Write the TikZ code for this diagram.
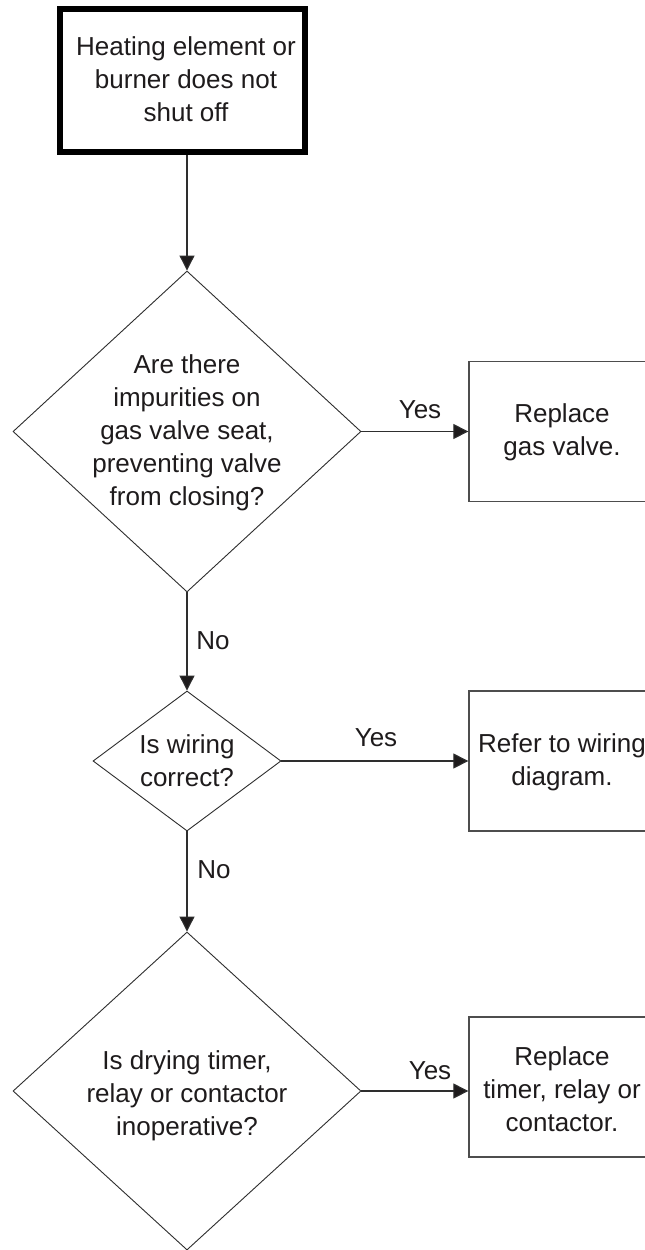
\documentclass[tikz,border=0pt]{standalone}
\usepackage{fontspec}
\setmainfont{Liberation Sans}
\usetikzlibrary{shapes.geometric,arrows.meta}
\definecolor{ink}{HTML}{1E1B1C}
\definecolor{edge}{HTML}{2E2E2E}
\begin{document}
\begin{tikzpicture}[x=1pt,y=-1pt,
  txt/.style={align=center,inner sep=0pt,text=ink,font=\fontsize{26}{33}\selectfont},
  lbl/.style={inner sep=0pt,text=ink,font=\fontsize{26}{33}\selectfont},
  startbox/.style={draw=black,line width=6pt,rectangle,minimum width=245pt,minimum height=143pt,inner sep=0pt},
  actbox/.style={draw=edge!85!white,line width=1.3pt,rectangle,minimum width=186pt,minimum height=140pt,inner sep=0pt},
  decision/.style={draw=edge,line width=0.9pt,diamond,inner sep=0pt},
  arr/.style={draw=edge,line width=1.1pt,-{Triangle[length=15pt,width=15pt,fill=ink]}},
  ln/.style={draw=edge,line width=1.1pt}]
\clip (0,0) rectangle (645,1250);
\fill[white] (0,0) rectangle (645,1250);

% start box
\node[startbox] (start) at (182,80) {};
\node[txt] (starttxt) at (186,79) {Heating element or\\burner does not\\shut off};

% decision 1
\node[decision,minimum width=348pt,minimum height=321pt] (d1) at (187,431.5) {};
\node[txt] (d1txt) at (187,433) {Are there\\impurities on\\gas valve seat,\\preventing valve\\from closing?};

% action 1
\node[actbox] (b1) at (562,431.5) {};
\node[txt] (b1txt) at (562,432) {Replace\\gas valve.};

% decision 2
\node[decision,minimum width=188pt,minimum height=140pt] (d2) at (187,761) {};
\node[txt] (d2txt) at (187,761) {Is wiring\\correct?};

% action 2
\node[actbox] (b2) at (562,761) {};
\node[txt] (b2txt) at (562,762) {Refer to wiring\\diagram.};

% decision 3
\node[decision,minimum width=348pt,minimum height=318pt] (d3) at (187,1091) {};
\node[txt] (d3txt) at (187,1096) {Is drying timer,\\relay or contactor\\inoperative?};

% action 3
\node[actbox] (b3) at (562,1087) {};
\node[txt] (b3txt) at (562,1089) {Replace\\timer, relay or\\contactor.};

% connectors
\draw[arr] (d1.north |- start.south) -- (d1.north);
\draw[arr] (d1.east) -- (b1.west);
\draw[arr] (d1.south) -- (d2.north);
\draw[arr] (d2.east) -- (d2.east -| b2.west);
\draw[arr] (d2.south) -- (d3.north);
\draw[arr] (d3.east) -- (d3.east -| b3.west);

% labels
\node[lbl] (y1) at (420,410) {Yes};
\node[lbl] (y2) at (376,738) {Yes};
\node[lbl] (y3) at (430,1071) {Yes};
\node[lbl] (n1) at (213,641) {No};
\node[lbl] (n2) at (214,870) {No};
\end{tikzpicture}
\end{document}
